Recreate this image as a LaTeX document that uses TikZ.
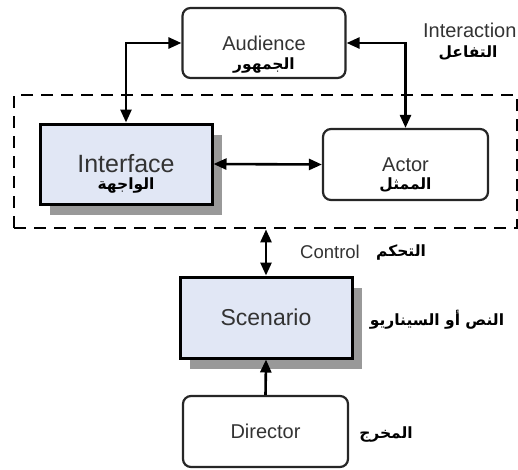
\documentclass[tikz,border=0pt]{standalone}
\usepackage{fontspec}
\setmainfont{Liberation Sans}
\newfontfamily\arfont[Script=Arabic]{DejaVu Sans}
\TeXXeTstate=1
\usepackage{tikz}
\usetikzlibrary{arrows.meta, positioning, shadows}
\definecolor{boxblue}{HTML}{E1E7F5}
\definecolor{txtgray}{HTML}{333333}
\tikzset{
  en/.style = {text=txtgray, font=\fontsize{20}{24}\selectfont},
  ar/.style = {text=black, font=\arfont\bfseries\fontsize{15.5}{19}\selectfont},
  rbox/.style = {draw=black!85, line width=2.2pt, rounded corners=8pt,
    fill=white, en},
  sbox/.style = {draw=black, line width=3pt, fill=boxblue, en,
    drop shadow={shadow xshift=10pt, shadow yshift=-11pt, fill=black!40,
    opacity=1}},
  link/.style = {line width=2.6pt}
}

\begin{document}
\begin{tikzpicture}[x=1pt, y=-1pt, >={Triangle[length=13pt,width=11pt]}]
\useasboundingbox (0,0) rectangle (518,469);
\node [draw, line width=2.8pt, dash pattern=on 12pt off 8pt,
  minimum width=503pt, minimum height=133pt] (frame) at (265.5,161.5) {};
\node [rbox, minimum width=163pt, minimum height=70pt] (audience) at (264,43) {Audience};
\node [ar] (audience-ar) at ([yshift=-23pt]audience.center) {\beginR الجمهور\endR};
\node [sbox, minimum width=172pt, minimum height=80pt,
  font=\fontsize{25}{30}\selectfont] (iface) at (126,164) {Interface};
\node [ar] (iface-ar) at ([yshift=-22pt]iface.center) {\beginR الواجهة\endR};
\node [rbox, minimum width=165pt, minimum height=71pt] (actor) at (405.5,164.5) {Actor};
\node [ar] (actor-ar) at ([yshift=-21pt]actor.center) {\beginR الممثل\endR};
\node [sbox, minimum width=172pt, minimum height=81pt,
  font=\fontsize{23}{28}\selectfont] (scenario) at (266,317.5) {Scenario};
\node [rbox, minimum width=165pt, minimum height=71pt] (director) at (265.5,431.5) {Director};

\node [en, anchor=east] (interaction) at (520,30) {Interaction};
\node [ar] (interaction-ar) at (468,53) {\beginR التفاعل\endR};
\node [en, font=\fontsize{18.5}{22}\selectfont] (control) at (330,252) {Control};
\node [ar] (control-ar) at (401,252) {\beginR التحكم\endR};
\node [ar] (scenario-ar) at (437,320) {\beginR النص أو السيناريو\endR};
\node [ar] (director-ar) at (386,434) {\beginR المخرج\endR};

\draw [link, <->] (audience.west) -| (iface.north);
\draw [link, <->] (audience.east) -| (actor.north);
\draw [link, <->] (iface.east) -- (actor.west);
\draw [link, <->] (frame.south -| scenario.north) -- (scenario.north);
\draw [link, ->] (director.north) -- (scenario.south);
\end{tikzpicture}
\end{document}
